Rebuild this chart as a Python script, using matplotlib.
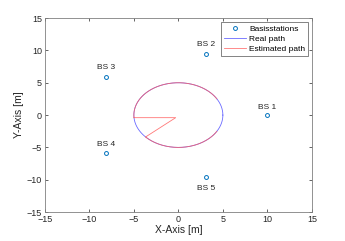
import numpy as np
import matplotlib
matplotlib.use("Agg")
import matplotlib.pyplot as plt

# Base stations (x, y) and labels
bs_x = [10.0, 3.09, -8.09, -8.09, 3.09]
bs_y = [0.0, 9.51, 5.88, -5.88, -9.51]
bs_labels = ["BS 1", "BS 2", "BS 3", "BS 4", "BS 5"]
bs_label_dy = [1.2, 1.4, 1.4, 1.4, -1.8]

# Real path: circle of radius 5
radius = 5.0
real_angles = np.linspace(0, 360, 361)

# Estimated path: arc pieces (deg) plus the start-up jump
est_arc1 = np.linspace(-137, -30, 60)
est_arc2 = np.linspace(30, 185, 80)
est_jump_x = [-5.0, -0.3, -3.7]
est_jump_y = [-0.4, -0.4, -3.4]

plt.rcParams['font.family'] = ['Liberation Sans', 'DejaVu Sans']
fig = plt.figure(figsize=(3.45, 2.41), dpi=100)
ax = fig.add_axes([0.130, 0.120, 0.774, 0.805])

ax.plot(bs_x, bs_y, 'o', ms=2.8, mfc='none', mec='#0072BD', mew=0.7,
        ls='none', label='Basisstations')
ax.plot(radius * np.cos(np.radians(real_angles)),
        radius * np.sin(np.radians(real_angles)),
        color='#6a6aff', lw=0.6, label='Real path')

ex = list(radius * np.cos(np.radians(est_arc2))) + est_jump_x + \
    list(radius * np.cos(np.radians(est_arc1)))
ey = list(radius * np.sin(np.radians(est_arc2))) + est_jump_y + \
    list(radius * np.sin(np.radians(est_arc1)))
ax.plot(ex, ey, color='#ff6060', lw=0.6, alpha=0.85, label='Estimated path')

for x, y, s, dy in zip(bs_x, bs_y, bs_labels, bs_label_dy):
    ax.text(x, y + dy, s, ha='center', va='center', fontsize=6, color='#262626')

ax.set_xlim(-15, 15)
ax.set_ylim(-15, 15)
ax.set_xticks([-15, -10, -5, 0, 5, 10, 15])
ax.set_yticks([-15, -10, -5, 0, 5, 10, 15])
ax.tick_params(direction='in', length=2, width=0.5, labelsize=6.5,
               colors='#262626', top=True, right=True, pad=2)
for sp in ax.spines.values():
    sp.set_linewidth(0.6)
    sp.set_color('#808080')
ax.set_xlabel('X-Axis [m]', fontsize=7.5, color='#262626', labelpad=1)
ax.set_ylabel('Y-Axis [m]', fontsize=7.5, color='#262626', labelpad=2)

leg = ax.legend(loc='upper right', fontsize=6, frameon=True, fancybox=False,
                edgecolor='#262626', borderpad=0.35, handlelength=2.6,
                handletextpad=0.4, labelspacing=0.3, borderaxespad=0.45)
leg.get_frame().set_linewidth(0.5)

fig.savefig('out.png', dpi=100)
